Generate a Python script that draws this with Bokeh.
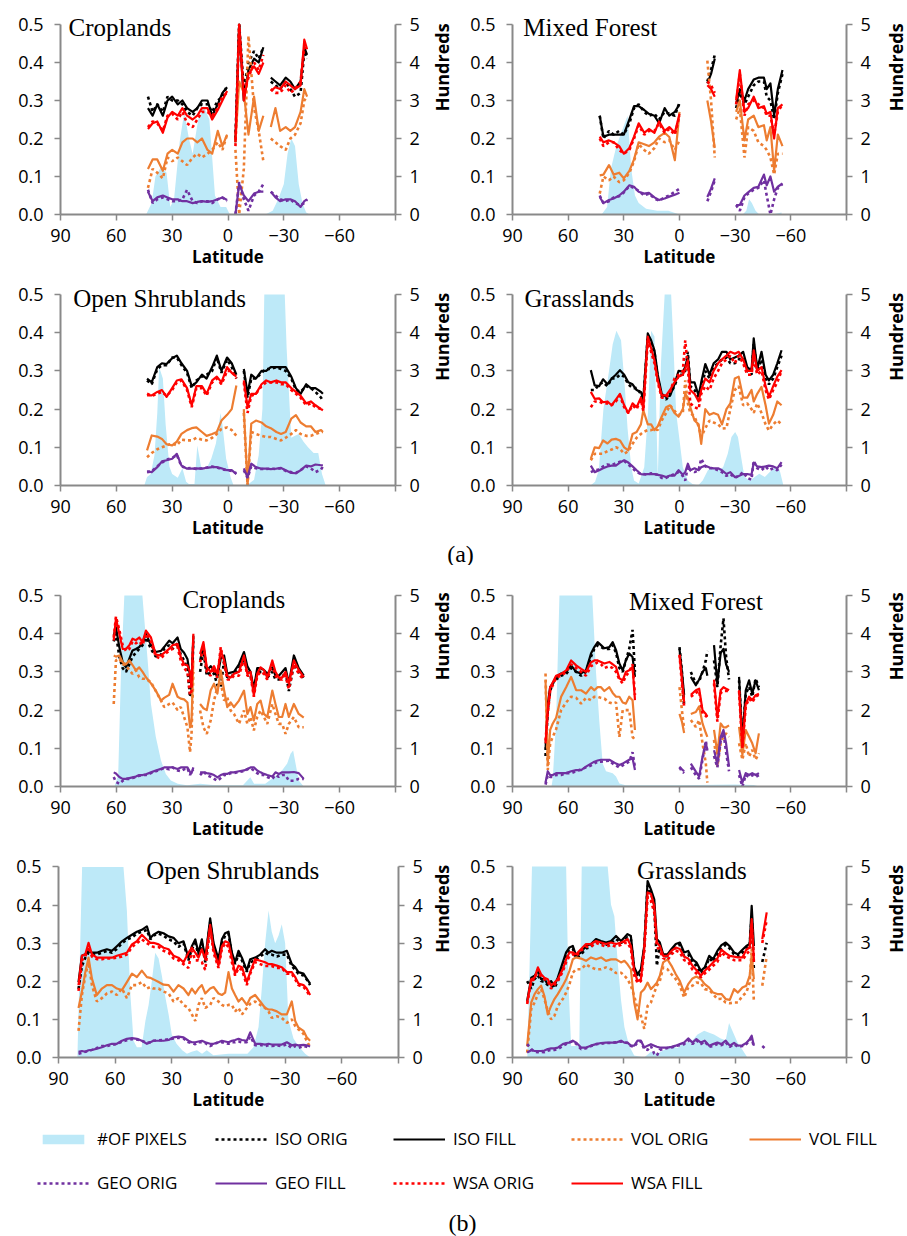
import numpy as np
from bokeh.plotting import figure
from bokeh.models import (Range1d, LinearAxis, FixedTicker, PrintfTickFormatter,
                          Label, Legend, LegendItem)
from bokeh.layouts import column, row
from bokeh.embed import file_html
from bokeh.resources import INLINE

N = None

# ---------------------------------------------------------------- (a) Croplands
A_CROP_LAT = [43, 40.5, 38, 35, 32.5, 30, 27, 24.5, 22, 19, 16.5, 14, 11, 8.5, 5.5, 3, 0.5, -2, -4, -6,
              -8.5, -11, -14, -16.5, -19, -21, -23, -25.5, -28, -31, -33.5, -36, -39, -41, -42.5]
A_CROP_ISO_ORIG = [0.31, 0.27, 0.29, 0.27, 0.31, 0.30, 0.30, 0.29, 0.27, 0.26, 0.28, 0.29, 0.29, 0.27, 0.30, 0.31, 0.34, N, 0.20, 0.50,
                   0.33, 0.40, 0.43, 0.41, 0.44, N, 0.35, 0.34, 0.33, 0.35, 0.33, 0.31, 0.32, 0.43, 0.41]
A_CROP_ISO_FILL = [0.28, 0.26, 0.29, 0.26, 0.30, 0.31, 0.29, 0.30, 0.28, 0.27, 0.28, 0.30, 0.30, 0.26, 0.29, 0.32, 0.335, N, 0.19, 0.50,
                   0.30, 0.38, 0.41, 0.40, 0.44, N, 0.36, 0.35, 0.34, 0.36, 0.35, 0.33, 0.35, 0.44, 0.42]
A_CROP_VOL_ORIG = [0.07, 0.12, 0.11, 0.095, 0.15, 0.14, 0.15, 0.14, 0.13, 0.15, 0.16, 0.15, 0.16, 0.17, 0.19, 0.17, 0.21, N, 0.17, 0.0,
                   0.12, 0.47, 0.28, 0.22, 0.14, N, 0.20, 0.19, 0.18, 0.17, 0.20, 0.21, 0.24, 0.30, 0.31]
A_CROP_VOL_FILL = [0.12, 0.145, 0.145, 0.115, 0.16, 0.17, 0.16, 0.19, 0.20, 0.20, 0.19, 0.20, 0.17, 0.16, 0.22, 0.18, 0.21, N, 0.19, 0.35,
                   0.32, 0.21, 0.31, 0.22, 0.26, N, 0.23, 0.28, 0.22, 0.23, 0.22, 0.23, 0.27, 0.33, 0.31]
A_CROP_GEO_ORIG = [0.065, 0.03, 0.04, 0.045, 0.04, 0.035, 0.035, 0.04, 0.065, 0.035, 0.03, 0.035, 0.035, 0.03, 0.04, 0.045, 0.035, N, 0.0, 0.085,
                   0.04, 0.01, 0.05, 0.06, 0.08, N, 0.06, 0.05, 0.04, 0.035, 0.04, 0.03, 0.025, 0.03, 0.04]
A_CROP_GEO_FILL = [0.06, 0.035, 0.045, 0.05, 0.045, 0.04, 0.04, 0.035, 0.035, 0.03, 0.033, 0.035, 0.033, 0.035, 0.04, 0.045, 0.038, N, 0.0, 0.08,
                   0.05, 0.035, 0.055, 0.06, 0.06, N, 0.06, 0.045, 0.035, 0.04, 0.04, 0.035, 0.02, 0.035, 0.04]
A_CROP_WSA_ORIG = [0.23, 0.245, 0.24, 0.22, 0.26, 0.265, 0.25, 0.27, 0.24, 0.23, 0.25, 0.27, 0.27, 0.26, 0.28, 0.31, 0.32, N, 0.18, 0.50,
                   0.32, 0.36, 0.40, 0.38, 0.42, N, 0.33, 0.32, 0.32, 0.34, 0.32, 0.33, 0.35, 0.44, 0.43]
A_CROP_WSA_FILL = [0.225, 0.24, 0.245, 0.215, 0.255, 0.27, 0.26, 0.28, 0.26, 0.25, 0.26, 0.28, 0.28, 0.25, 0.275, 0.30, 0.325, N, 0.19, 0.50,
                   0.30, 0.37, 0.39, 0.37, 0.40, N, 0.325, 0.335, 0.33, 0.35, 0.34, 0.33, 0.34, 0.46, 0.435]
A_CROP_PX_LAT = [44, 41, 39, 36, 33, 31, 29, 26, 23.5, 21, 19, 16, 13, 10, 7, 4, 1, -1, -5, -10,
                 -15, -20, -24, -27, -30, -32, -34, -36, -38, -40, -42, -44]
A_CROP_PX = [0, 0.3, 1.0, 1.25, 1.1, 0.2, 0.4, 1.9, 2.7, 2.0, 1.6, 2.5, 2.85, 2.5, 0.5, 0.2, 0.2, 0, 0, 0,
             0, 0, 0.1, 0.4, 0.8, 1.6, 2.0, 1.8, 0.8, 0.3, 0.05, 0]

# ---------------------------------------------------------------- (a) Mixed Forest
A_MIXF_LAT = [43, 41, 38, 35.5, 32.5, 30, 27, 24.5, 22, 19, 16.5, 13.5, 11, 8, 5.5, 2.5, 0, -7, -15, -17,
              -19, -25, -30.5, -32.5, -35, -37, -40, -42.5, -45.5, -47, -49, -51, -53, -55.5]
A_MIXF_ISO_ORIG = [0.26, 0.20, 0.22, 0.21, 0.22, 0.21, 0.24, 0.28, 0.29, 0.27, 0.26, 0.265, 0.25, 0.27, 0.265, 0.26, 0.295, N, 0.35, 0.38,
                   0.42, N, 0.28, 0.32, 0.29, 0.31, 0.34, 0.35, 0.35, 0.31, 0.30, 0.25, 0.32, 0.37]
A_MIXF_ISO_FILL = [0.26, 0.205, 0.21, 0.21, 0.21, 0.21, 0.25, 0.285, 0.285, 0.275, 0.265, 0.26, 0.24, 0.28, 0.26, 0.27, 0.29, N, 0.345, 0.37,
                   0.41, N, 0.29, 0.33, 0.30, 0.33, 0.355, 0.36, 0.36, 0.33, 0.345, 0.26, 0.33, 0.38]
A_MIXF_VOL_ORIG = [0.055, 0.10, 0.09, 0.10, 0.085, 0.09, 0.11, 0.14, 0.185, 0.17, 0.16, 0.175, 0.20, 0.19, 0.195, 0.17, 0.195, N, 0.405, 0.30,
                   0.15, N, 0.25, 0.28, 0.15, 0.23, 0.22, 0.19, 0.18, 0.17, 0.15, 0.105, 0.16, 0.16]
A_MIXF_VOL_FILL = [0.103, 0.105, 0.13, 0.105, 0.11, 0.095, 0.115, 0.145, 0.19, 0.185, 0.18, 0.19, 0.205, 0.215, 0.204, 0.143, 0.27, N, 0.30, 0.245,
                   0.175, N, 0.27, 0.30, 0.195, 0.25, 0.26, 0.23, 0.235, 0.195, 0.23, 0.115, 0.21, 0.18]
A_MIXF_GEO_ORIG = [0.05, 0.03, 0.035, 0.045, 0.048, 0.058, 0.075, 0.07, 0.062, 0.05, 0.055, 0.042, 0.036, 0.045, 0.05, 0.06, 0.068, N, 0.035, 0.06,
                   0.09, N, 0.025, 0.01, 0.045, 0.055, 0.065, 0.07, 0.09, 0.05, 0.0, 0.04, 0.07, 0.08]
A_MIXF_GEO_FILL = [0.046, 0.03, 0.038, 0.042, 0.05, 0.06, 0.077, 0.073, 0.06, 0.055, 0.057, 0.045, 0.038, 0.042, 0.047, 0.052, 0.057, N, 0.046, 0.068,
                   0.095, N, 0.025, 0.025, 0.05, 0.058, 0.07, 0.073, 0.105, 0.077, 0.1, 0.06, 0.073, 0.082]
A_MIXF_WSA_ORIG = [0.20, 0.18, 0.19, 0.19, 0.17, 0.16, 0.17, 0.20, 0.235, 0.21, 0.22, 0.22, 0.24, 0.215, 0.225, 0.21, 0.26, N, 0.35, 0.34,
                   0.32, N, 0.29, 0.37, 0.26, 0.29, 0.30, 0.29, 0.28, 0.26, 0.26, 0.21, 0.27, 0.29]
A_MIXF_WSA_FILL = [0.205, 0.19, 0.195, 0.19, 0.18, 0.16, 0.175, 0.205, 0.24, 0.215, 0.225, 0.215, 0.245, 0.22, 0.23, 0.215, 0.265, N, 0.34, 0.33,
                   0.31, N, 0.30, 0.38, 0.27, 0.28, 0.31, 0.28, 0.285, 0.265, 0.27, 0.20, 0.28, 0.29]
A_MIXF_PX_LAT = [42, 39, 37, 34, 31, 28, 26, 24, 22, 18, 12, 6, 0, -34, -36, -37.5, -39, -41, -43, -50, -55]
A_MIXF_PX = [0, 0.2, 1.2, 1.8, 2.2, 2.6, 1.2, 0.5, 0.3, 0.15, 0.1, 0.1, 0, 0, 0.1, 0.4, 0.3, 0.1, 0, 0, 0.05]

# ---------------------------------------------------------------- (a) Open Shrublands
A_SHRUB_LAT = [43.5, 41, 38, 35.5, 33, 30, 27.5, 25, 22, 19.5, 17, 14, 11.5, 8.5, 6, 3.5, 0.5, -2, -4.5, -6.5,
               -8.5, -10.5, -12.5, -15, -18, -20.5, -23, -26, -28.5, -31, -34, -36.5, -39, -42, -44.5, -47, -50, -51]
A_SHRUB_ISO_ORIG = [0.275, 0.265, 0.305, 0.315, 0.315, 0.335, 0.335, 0.315, 0.295, 0.255, 0.275, 0.285, 0.29, 0.30, 0.335, 0.295, 0.33, 0.31, 0.28, N,
                    0.30, 0.23, 0.28, 0.28, 0.295, 0.305, 0.305, 0.31, 0.305, 0.30, 0.28, 0.25, 0.245, 0.26, 0.255, 0.245, 0.23, 0.22]
A_SHRUB_ISO_FILL = [0.28, 0.27, 0.31, 0.32, 0.318, 0.333, 0.34, 0.32, 0.30, 0.26, 0.27, 0.29, 0.28, 0.31, 0.34, 0.30, 0.335, 0.32, 0.29, N,
                    0.305, 0.24, 0.29, 0.28, 0.30, 0.30, 0.31, 0.31, 0.31, 0.31, 0.285, 0.255, 0.24, 0.265, 0.255, 0.255, 0.245, 0.24]
A_SHRUB_VOL_ORIG = [0.074, 0.085, 0.095, 0.10, 0.105, 0.11, 0.105, 0.12, 0.118, 0.118, 0.125, 0.12, 0.118, 0.125, 0.135, 0.148, 0.152, 0.145, 0.13, N,
                    0.19, 0.0, 0.14, 0.135, 0.13, 0.127, 0.127, 0.122, 0.118, 0.125, 0.135, 0.145, 0.135, 0.13, 0.13, 0.135, 0.14, 0.14]
A_SHRUB_VOL_FILL = [0.092, 0.131, 0.128, 0.122, 0.108, 0.105, 0.115, 0.135, 0.145, 0.15, 0.152, 0.14, 0.13, 0.135, 0.14, 0.17, 0.185, 0.20, 0.262, N,
                    0.20, 0.0, 0.162, 0.17, 0.165, 0.155, 0.15, 0.14, 0.135, 0.14, 0.175, 0.184, 0.165, 0.155, 0.155, 0.14, 0.145, 0.14]
A_SHRUB_GEO_ORIG = [0.035, 0.037, 0.05, 0.06, 0.068, 0.072, 0.08, 0.05, 0.045, 0.046, 0.043, 0.045, 0.047, 0.05, 0.047, 0.043, 0.04, 0.038, 0.032, N,
                    0.04, 0.02, 0.05, 0.045, 0.043, 0.043, 0.044, 0.043, 0.045, 0.038, 0.035, 0.033, 0.04, 0.05, 0.045, 0.035, 0.042, 0.05]
A_SHRUB_GEO_FILL = [0.037, 0.035, 0.048, 0.063, 0.066, 0.07, 0.083, 0.052, 0.044, 0.044, 0.045, 0.044, 0.046, 0.048, 0.048, 0.045, 0.04, 0.04, 0.03, N,
                    0.045, 0.022, 0.057, 0.048, 0.044, 0.044, 0.043, 0.044, 0.046, 0.04, 0.033, 0.032, 0.04, 0.052, 0.05, 0.055, 0.053, 0.053]
A_SHRUB_WSA_ORIG = [0.24, 0.235, 0.24, 0.245, 0.235, 0.25, 0.27, 0.275, 0.25, 0.205, 0.255, 0.255, 0.235, 0.27, 0.28, 0.265, 0.30, 0.30, 0.28, N,
                    0.27, 0.19, 0.235, 0.24, 0.26, 0.27, 0.27, 0.27, 0.265, 0.265, 0.25, 0.24, 0.23, 0.21, 0.215, 0.205, 0.2, 0.195]
A_SHRUB_WSA_FILL = [0.236, 0.236, 0.245, 0.25, 0.232, 0.255, 0.275, 0.278, 0.255, 0.21, 0.26, 0.26, 0.24, 0.275, 0.285, 0.27, 0.31, 0.295, 0.285, N,
                    0.275, 0.205, 0.24, 0.24, 0.265, 0.275, 0.27, 0.275, 0.27, 0.27, 0.255, 0.245, 0.235, 0.215, 0.22, 0.21, 0.2, 0.197]
A_SHRUB_PX_LAT = [45, 43.5, 41.5, 39.5, 38, 37, 35, 33.5, 31.5, 30, 27, 24.5, 22.5, 21, 18, 16.5, 14.5, 12, 9, 6.5,
                  4, 3, 1, -1.5, -3, -10, -14, -16.5, -18.5, -19.5, -30.5, -31.5, -34, -36, -38, -40.5, -43, -46, -48.5, -50.5, -52.5]
A_SHRUB_PX = [0, 0.22, 0.3, 0.8, 1.9, 3.1, 2.8, 1.6, 0.5, 0.3, 0.2, 0.45, 0.1, 0.04, 0.04, 1.05, 0.5, 0.4, 0.7, 1.1,
              1.9, 1.6, 0.7, 0.2, 0, 0, 0.15, 0.8, 2.0, 5.5, 5.5, 3.6, 1.25, 1.3, 1.35, 1.15, 1.0, 0.85, 0.85, 0.3, 0]

# ---------------------------------------------------------------- (a) Grasslands
A_GRASS_LAT = [47.8, 45.7, 43.3, 41.2, 38.8, 36.6, 34.3, 32.1, 29.8, 27.6, 25.3, 23.1, 20.8, 19.5, 17.1, 15.3, 13.5, 11.7, 9.6, 7.2,
               5.1, 2.7, 0.5, -1.8, -3.1, -4.5, -5.8, -8.1, -10.3, -11.7, -13.9, -16.2, -18.4, -20.8, -22.9, -25.3, -27.4, -29.8, -31.9, -34.3,
               -36.5, -38.8, -40, -41.9, -44.2, -46.4, -48.2, -50.5, -52.7, -55]
A_GRASS_ISO_ORIG = [0.25, 0.25, 0.265, 0.27, 0.26, 0.28, 0.28, 0.29, 0.285, 0.265, 0.255, 0.255, 0.24, 0.22, 0.39, 0.37, 0.35, 0.28, 0.235, 0.225,
                    0.24, 0.26, 0.29, 0.29, 0.30, 0.35, 0.26, 0.25, 0.23, 0.255, 0.30, 0.28, 0.31, 0.32, 0.33, 0.335, 0.32, 0.32, 0.33, 0.335,
                    0.30, 0.29, 0.37, 0.30, 0.33, 0.28, 0.265, 0.28, 0.31, 0.34]
A_GRASS_ISO_FILL = [0.302, 0.262, 0.26, 0.278, 0.265, 0.28, 0.29, 0.302, 0.29, 0.27, 0.265, 0.25, 0.245, 0.227, 0.398, 0.38, 0.354, 0.29, 0.24, 0.232,
                    0.235, 0.265, 0.30, 0.298, 0.31, 0.34, 0.27, 0.27, 0.235, 0.27, 0.318, 0.29, 0.32, 0.33, 0.35, 0.35, 0.33, 0.335, 0.34, 0.35,
                    0.31, 0.30, 0.385, 0.305, 0.35, 0.29, 0.275, 0.29, 0.32, 0.354]
A_GRASS_VOL_ORIG = [0.066, 0.083, 0.083, 0.083, 0.09, 0.094, 0.10, 0.096, 0.083, 0.09, 0.109, 0.125, 0.135, 0.14, 0.145, 0.145, 0.148, 0.145, 0.17, 0.19,
                    0.21, 0.195, 0.185, 0.19, 0.275, 0.215, 0.19, 0.18, 0.155, 0.127, 0.15, 0.17, 0.165, 0.16, 0.149, 0.15, 0.20, 0.25, 0.26, 0.21,
                    0.215, 0.20, 0.19, 0.215, 0.19, 0.16, 0.144, 0.16, 0.17, 0.16]
A_GRASS_VOL_FILL = [0.07, 0.10, 0.098, 0.118, 0.11, 0.12, 0.122, 0.118, 0.10, 0.092, 0.135, 0.14, 0.16, 0.197, 0.16, 0.16, 0.145, 0.155, 0.18, 0.205,
                    0.21, 0.19, 0.18, 0.20, 0.24, 0.23, 0.205, 0.17, 0.16, 0.109, 0.20, 0.185, 0.19, 0.185, 0.16, 0.20, 0.215, 0.28, 0.285, 0.23,
                    0.23, 0.25, 0.22, 0.24, 0.258, 0.21, 0.162, 0.185, 0.22, 0.21]
A_GRASS_GEO_ORIG = [0.035, 0.04, 0.042, 0.05, 0.055, 0.053, 0.058, 0.062, 0.064, 0.055, 0.045, 0.035, 0.03, 0.03, 0.028, 0.032, 0.03, 0.028, 0.02, 0.02,
                    0.025, 0.03, 0.035, 0.025, 0.013, 0.05, 0.04, 0.035, 0.04, 0.07, 0.05, 0.045, 0.045, 0.04, 0.035, 0.025, 0.03, 0.02, 0.025, 0.035,
                    0.02, 0.015, 0.065, 0.045, 0.04, 0.05, 0.04, 0.045, 0.04, 0.055]
A_GRASS_GEO_FILL = [0.052, 0.035, 0.04, 0.045, 0.05, 0.052, 0.052, 0.06, 0.066, 0.06, 0.05, 0.04, 0.03, 0.029, 0.03, 0.03, 0.03, 0.028, 0.026, 0.022,
                    0.026, 0.026, 0.04, 0.028, 0.035, 0.057, 0.04, 0.045, 0.04, 0.048, 0.052, 0.047, 0.045, 0.045, 0.04, 0.03, 0.035, 0.022, 0.025, 0.03,
                    0.03, 0.028, 0.06, 0.05, 0.048, 0.05, 0.052, 0.05, 0.045, 0.061]
A_GRASS_WSA_ORIG = [0.205, 0.22, 0.22, 0.215, 0.215, 0.21, 0.22, 0.235, 0.205, 0.19, 0.21, 0.2, 0.225, 0.195, 0.38, 0.35, 0.32, 0.27, 0.23, 0.23,
                    0.245, 0.28, 0.29, 0.30, 0.38, 0.31, 0.215, 0.205, 0.2, 0.24, 0.26, 0.25, 0.28, 0.30, 0.32, 0.33, 0.34, 0.32, 0.34, 0.32,
                    0.29, 0.29, 0.33, 0.29, 0.30, 0.25, 0.225, 0.25, 0.27, 0.3]
A_GRASS_WSA_FILL = [0.245, 0.227, 0.228, 0.218, 0.22, 0.21, 0.225, 0.24, 0.21, 0.19, 0.215, 0.205, 0.23, 0.2, 0.39, 0.36, 0.328, 0.275, 0.236, 0.236,
                    0.25, 0.27, 0.285, 0.29, 0.305, 0.328, 0.25, 0.24, 0.22, 0.25, 0.28, 0.27, 0.30, 0.32, 0.33, 0.34, 0.35, 0.345, 0.35, 0.33,
                    0.30, 0.30, 0.354, 0.30, 0.31, 0.26, 0.232, 0.26, 0.285, 0.302]
A_GRASS_PX_LAT = [48, 45.5, 43.5, 41, 39.5, 38, 36, 34, 31.5, 29.5, 28, 26, 24.5, 22, 19, 17, 15.3, 13.5, 11.7, 10,
                  8, 4.5, 3.2, 1.8, 0, -1.8, -4.5, -7, -10, -12.5, -15.3, -18, -21, -23.5, -26, -28, -30, -31.5, -33.5, -35,
                  -38, -40.5, -43, -46, -48.5, -51.5, -54, -56]
A_GRASS_PX = [0, 0.1, 0.4, 2.0, 2.5, 3.0, 3.7, 4.05, 3.8, 2.6, 1.5, 0.48, 0.13, 0.05, 0.48, 1.9, 4.05, 3.9, 0.22, 3.2,
              5.5, 5.5, 3.6, 1.9, 1.2, 0.48, 0.13, 0.04, 0, 0.13, 0.4, 0.48, 0.4, 0.48, 0.83, 1.27, 1.4, 1.27, 0.66, 0.22,
              0.13, 0.22, 0.31, 0.22, 0.35, 0.48, 0.4, 0]

# ---------------------------------------------------------------- (b) Croplands
B_CROP_LAT = [61.4, 60.2, 58.4, 56.6, 54.8, 53, 51.3, 49.5, 47.7, 45.9, 44.1, 41.4, 38.8, 36, 34.3, 31.6, 29.8, 27.1, 25.4, 23.6,
              21.8, 20.4, 19.6, 18.6, 17, 15, 13.2, 11.4, 9.3, 7.5, 5.7, 3.9, 2.1, 0.4, -1.4, -3.2, -5.9, -8.6, -10.4, -12.1,
              -13.9, -15.7, -17.5, -19.3, -21.1, -23.8, -25.5, -27.3, -29.1, -30.9, -32.7, -35.4, -38, -40.7]
B_CROP_ISO_ORIG = [0.38, 0.40, 0.34, 0.31, 0.30, 0.32, 0.34, 0.35, 0.36, 0.37, 0.39, 0.36, 0.34, 0.345, 0.36, 0.37, 0.36, 0.375, 0.345, 0.33,
                   0.31, 0.234, 0.25, 0.38, N,
                   0.30, 0.355, 0.29, 0.30, 0.295, 0.265, 0.26, 0.33, 0.285, 0.29, 0.29, 0.31, 0.335, 0.30, 0.29, 0.25, 0.30, 0.30, 0.30, 0.285,
                   0.30, 0.28, 0.28, 0.285, 0.30, 0.25, 0.32, 0.30, 0.285]
B_CROP_ISO_FILL = [0.395, 0.417, 0.365, 0.325, 0.312, 0.335, 0.356, 0.36, 0.365, 0.378, 0.40, 0.37, 0.352, 0.355, 0.365, 0.382, 0.375, 0.39, 0.36, 0.35,
                   0.334, 0.29, 0.26, 0.395, N,
                   0.33, 0.37, 0.304, 0.315, 0.304, 0.286, 0.335, 0.343, 0.295, 0.298, 0.30, 0.32, 0.352, 0.315, 0.30, 0.256, 0.31, 0.31, 0.305, 0.295,
                   0.312, 0.29, 0.29, 0.30, 0.31, 0.27, 0.343, 0.31, 0.29]
B_CROP_VOL_ORIG = [0.216, 0.33, 0.335, 0.32, 0.318, 0.304, 0.295, 0.304, 0.286, 0.282, 0.282, 0.273, 0.25, 0.225, 0.208, 0.216, 0.22, 0.2, 0.208, 0.182,
                   0.155, 0.09, 0.135, 0.30, N,
                   0.199, 0.155, 0.138, 0.173, 0.225, 0.26, 0.273, 0.225, 0.234, 0.199, 0.19, 0.164, 0.199, 0.164, 0.182, 0.147, 0.182, 0.199, 0.182, 0.164,
                   0.216, 0.19, 0.164, 0.164, 0.138, 0.164, 0.182, 0.155, 0.155]
B_CROP_VOL_FILL = [0.343, 0.34, 0.343, 0.325, 0.32, 0.33, 0.318, 0.304, 0.312, 0.30, 0.286, 0.27, 0.251, 0.225, 0.232, 0.24, 0.269, 0.235, 0.23, 0.228,
                   0.22, 0.155, 0.17, 0.33, N,
                   0.216, 0.205, 0.20, 0.252, 0.269, 0.243, 0.304, 0.252, 0.208, 0.22, 0.208, 0.225, 0.251, 0.19, 0.208, 0.173, 0.216, 0.225, 0.19, 0.182,
                   0.251, 0.216, 0.182, 0.182, 0.216, 0.182, 0.216, 0.19, 0.18]
B_CROP_GEO_ORIG = [0.025, 0.012, 0.007, 0.015, 0.02, 0.02, 0.022, 0.025, 0.028, 0.03, 0.03, 0.035, 0.04, 0.045, 0.048, 0.045, 0.05, 0.042, 0.04, 0.045,
                   0.048, 0.03, 0.04, 0.045, N,
                   0.03, 0.04, 0.03, 0.025, 0.02, 0.015, 0.022, 0.03, 0.03, 0.035, 0.035, 0.038, 0.04, 0.045, 0.048, 0.042, 0.035, 0.03, 0.03, 0.025,
                   0.02, 0.03, 0.025, 0.03, 0.03, 0.015, 0.015, 0.02, 0.02]
B_CROP_GEO_FILL = [0.037, 0.034, 0.025, 0.02, 0.02, 0.022, 0.024, 0.026, 0.03, 0.03, 0.032, 0.037, 0.042, 0.046, 0.05, 0.05, 0.05, 0.046, 0.05, 0.05,
                   0.05, 0.038, 0.035, 0.05, N,
                   0.037, 0.037, 0.035, 0.033, 0.03, 0.024, 0.03, 0.033, 0.033, 0.037, 0.037, 0.04, 0.042, 0.046, 0.05, 0.05, 0.042, 0.037, 0.033, 0.03,
                   0.026, 0.037, 0.033, 0.037, 0.037, 0.037, 0.038, 0.035, 0.02]
B_CROP_WSA_ORIG = [0.39, 0.445, 0.41, 0.37, 0.355, 0.36, 0.38, 0.375, 0.38, 0.37, 0.40, 0.38, 0.34, 0.335, 0.345, 0.355, 0.36, 0.365, 0.33, 0.31,
                   0.30, 0.24, 0.25, 0.39, N,
                   0.325, 0.37, 0.30, 0.29, 0.31, 0.285, 0.365, 0.32, 0.28, 0.28, 0.29, 0.29, 0.335, 0.29, 0.29, 0.235, 0.29, 0.30, 0.295, 0.28,
                   0.32, 0.29, 0.28, 0.28, 0.29, 0.255, 0.32, 0.295, 0.28]
B_CROP_WSA_FILL = [0.382, 0.44, 0.40, 0.36, 0.36, 0.37, 0.387, 0.383, 0.39, 0.378, 0.408, 0.39, 0.345, 0.343, 0.35, 0.36, 0.37, 0.373, 0.34, 0.32,
                   0.317, 0.30, 0.26, 0.40, N,
                   0.347, 0.378, 0.312, 0.30, 0.315, 0.295, 0.356, 0.33, 0.29, 0.285, 0.295, 0.30, 0.343, 0.295, 0.30, 0.238, 0.295, 0.312, 0.305, 0.285,
                   0.33, 0.30, 0.285, 0.285, 0.30, 0.27, 0.33, 0.305, 0.286]
B_CROP_PX_LAT = [61, 59, 57.5, 55.7, 46, 45, 43, 41.4, 38.8, 36, 33.4, 30.7, 27, 22, 15, 8, 0, -8, -12, -14,
                 -20, -26.4, -29, -31.8, -33.6, -35, -36.3, -38, -40.7]
B_CROP_PX = [0, 0.3, 3.0, 5.5, 5.5, 4.4, 3.2, 2.16, 1.3, 0.68, 0.33, 0.16, 0.07, 0.03, 0.07, 0.04, 0.03, 0.03, 0.24, 0.07,
             0.07, 0.3, 0.42, 0.6, 0.86, 0.94, 0.6, 0.16, 0]

# ---------------------------------------------------------------- (b) Mixed Forest
B_MIXF_LAT = [72.2, 71, 69.7, 68.3, 66.5, 63.8, 61.1, 58.4, 55.7, 53, 50.4, 47.7, 45.9, 44.1, 42.3, 40.5, 37.8, 36, 34.2, 32.4,
              30.6, 28.9, 27.1, 25.3, 24, 12, 0, -1.3, -2.5, -4, -6.1, -8.8, -10.6, -12.4, -14.2, -15, -17,
              -18.6, -20.4, -22.2, -23.7, -25.1, -26.7, -29, -32.1, -33.9, -35.7, -37.5, -39.2, -41, -42.8]
B_MIXF_ISO_ORIG = [0.08, 0.2, 0.25, 0.27, 0.28, 0.29, 0.295, 0.31, 0.3, 0.29, 0.3, 0.34, 0.36, 0.37, 0.365, 0.36, 0.36, 0.37, 0.35, 0.31,
                   0.30, 0.33, 0.36, 0.41, 0.30, N, 0.365, 0.30, 0.21, N, 0.30, 0.27, 0.275, 0.30, 0.33, 0.355, N,
                   0.33, 0.26, 0.37, 0.44, 0.34, 0.28, N, 0.278, 0.122, 0.243, 0.261, 0.235, 0.282, 0.26]
B_MIXF_ISO_FILL = [0.096, 0.217, 0.26, 0.27, 0.287, 0.296, 0.30, 0.317, 0.30, 0.296, 0.304, 0.348, 0.365, 0.378, 0.37, 0.362, 0.365, 0.378, 0.357, 0.322,
                   0.304, 0.33, 0.348, 0.339, 0.287, N, 0.36, 0.30, 0.24, N, 0.287, 0.265, 0.28, 0.30, 0.31, 0.29, N,
                   0.37, 0.27, 0.35, 0.36, 0.32, 0.30, N, 0.287, 0.113, 0.252, 0.278, 0.243, 0.278, 0.252]
B_MIXF_VOL_ORIG = [0.296, 0.043, 0.113, 0.13, 0.15, 0.2, 0.22, 0.235, 0.232, 0.217, 0.232, 0.226, 0.235, 0.235, 0.232, 0.23, 0.22, 0.217, 0.22, 0.13,
                   0.2, 0.2, 0.2, 0.13, 0.122, N, 0.26, 0.2, 0.15, N, 0.174, 0.156, 0.174, 0.113, 0.06, 0.01, N,
                   0.122, 0.052, 0.113, 0.13, 0.139, 0.13, N, 0.113, 0.07, 0.113, 0.078, 0.096, 0.07, 0.087]
B_MIXF_VOL_FILL = [0.278, 0.06, 0.148, 0.165, 0.18, 0.235, 0.26, 0.287, 0.252, 0.252, 0.243, 0.26, 0.252, 0.26, 0.26, 0.25, 0.26, 0.245, 0.235, 0.235,
                   0.22, 0.217, 0.235, 0.226, 0.148, N, 0.19, 0.17, 0.14, N, 0.19, 0.195, 0.21, 0.165, 0.14, 0.13, N,
                   0.148, 0.087, 0.165, 0.155, 0.155, 0.16, N, 0.156, 0.083, 0.148, 0.13, 0.113, 0.087, 0.139]
B_MIXF_GEO_ORIG = [0.005, 0.03, 0.025, 0.025, 0.03, 0.03, 0.035, 0.035, 0.04, 0.045, 0.05, 0.055, 0.06, 0.065, 0.065, 0.066, 0.068, 0.06, 0.055, 0.05,
                   0.055, 0.06, 0.065, 0.09, 0.05, N, 0.05, 0.04, 0.035, N, 0.05, 0.03, 0.02, 0.07, 0.12, 0.09, N,
                   0.08, 0.05, 0.12, 0.14, 0.09, 0.04, N, 0.03, 0.0, 0.03, 0.025, 0.03, 0.025, 0.03]
B_MIXF_GEO_FILL = [0.01, 0.04, 0.03, 0.03, 0.035, 0.035, 0.035, 0.04, 0.043, 0.043, 0.052, 0.06, 0.065, 0.068, 0.07, 0.07, 0.07, 0.065, 0.06, 0.056,
                   0.06, 0.065, 0.07, 0.074, 0.043, N, 0.052, 0.045, 0.04, N, 0.06, 0.039, 0.026, 0.078, 0.113, 0.096, N,
                   0.095, 0.06, 0.13, 0.148, 0.113, 0.052, N, 0.043, 0.01, 0.035, 0.03, 0.035, 0.03, 0.035]
B_MIXF_WSA_ORIG = [0.12, 0.19, 0.25, 0.265, 0.285, 0.29, 0.3, 0.32, 0.31, 0.3, 0.29, 0.315, 0.32, 0.325, 0.32, 0.31, 0.315, 0.31, 0.3, 0.28,
                   0.27, 0.29, 0.3, 0.32, 0.24, N, 0.345, 0.27, 0.21, N, 0.235, 0.245, 0.25, 0.19, 0.185, 0.18, N,
                   0.27, 0.17, 0.245, 0.25, 0.25, 0.25, N, 0.25, 0.1, 0.21, 0.23, 0.22, 0.235, 0.24]
B_MIXF_WSA_FILL = [0.113, 0.2, 0.26, 0.272, 0.29, 0.295, 0.304, 0.33, 0.317, 0.308, 0.3, 0.325, 0.33, 0.33, 0.326, 0.322, 0.326, 0.32, 0.313, 0.283,
                   0.278, 0.30, 0.304, 0.313, 0.226, N, 0.343, 0.28, 0.22, N, 0.24, 0.252, 0.256, 0.2, 0.19, 0.183, N,
                   0.28, 0.18, 0.252, 0.26, 0.256, 0.252, N, 0.252, 0.104, 0.217, 0.235, 0.226, 0.239, 0.243]
B_MIXF_PX_LAT = [69, 68.3, 66.5, 64.7, 47, 45, 43.2, 41.4, 39.6, 36, 34.2, 32.4, 29, 0, -30, -40, -43]
B_MIXF_PX = [0, 0.2, 1.74, 5.5, 5.5, 3.0, 1.7, 0.6, 0.4, 0.35, 0.26, 0.08, 0.03, 0.03, 0.05, 0.04, 0]

# ---------------------------------------------------------------- (b) Open Shrublands
B_SHRUB_LAT = [79.4, 77.6, 75.8, 74.1, 72.3, 69.7, 67, 64.4, 61.7, 59.1, 56.4, 53.8, 51.1, 48.5, 45.9, 43.2, 41.4, 39.7, 37, 34.4,
               31.7, 29.1, 26.5, 23.8, 21.2, 19.4, 17.6, 15.9, 14.1, 12.3, 9.7, 7.9, 5.3, 3.5, 1.8, 0, -1.8, -3.5, -5.3, -7.1,
               -9.7, -11.5, -14.1, -16.8, -19.4, -21.2, -22.9, -25.6, -28.2, -30.9, -33.5, -35.3, -37, -39.7, -41.4, -43.2]
B_SHRUB_ISO_ORIG = [0.18, 0.24, 0.262, 0.275, 0.272, 0.27, 0.275, 0.28, 0.275, 0.285, 0.30, 0.31, 0.315, 0.325, 0.33, 0.335, 0.31, 0.32, 0.325, 0.32,
                    0.31, 0.305, 0.29, 0.3, 0.255, 0.285, 0.30, 0.27, 0.30, 0.25, 0.355, 0.29, 0.25, 0.30, 0.32, 0.325, 0.27, 0.245, 0.27, 0.255,
                    0.225, 0.25, 0.255, 0.265, 0.275, 0.27, 0.27, 0.265, 0.27, 0.27, 0.24, 0.23, 0.22, 0.215, 0.205, 0.19]
B_SHRUB_ISO_FILL = [0.198, 0.267, 0.271, 0.28, 0.275, 0.275, 0.28, 0.284, 0.28, 0.292, 0.305, 0.314, 0.322, 0.33, 0.335, 0.344, 0.314, 0.322, 0.33, 0.326,
                    0.318, 0.314, 0.30, 0.305, 0.262, 0.292, 0.31, 0.275, 0.31, 0.258, 0.365, 0.30, 0.258, 0.31, 0.326, 0.33, 0.275, 0.25, 0.28, 0.262,
                    0.228, 0.258, 0.262, 0.27, 0.284, 0.275, 0.28, 0.275, 0.275, 0.28, 0.245, 0.237, 0.224, 0.22, 0.207, 0.194]
B_SHRUB_VOL_ORIG = [0.07, 0.164, 0.215, 0.25, 0.19, 0.147, 0.156, 0.168, 0.173, 0.164, 0.181, 0.156, 0.19, 0.19, 0.198, 0.181, 0.185, 0.181, 0.181, 0.173,
                    0.168, 0.147, 0.156, 0.138, 0.13, 0.113, 0.096, 0.138, 0.156, 0.13, 0.138, 0.156, 0.147, 0.138, 0.134, 0.138, 0.138, 0.121, 0.13, 0.113,
                    0.13, 0.141, 0.147, 0.138, 0.13, 0.121, 0.104, 0.108, 0.104, 0.091, 0.1, 0.083, 0.074, 0.062, 0.044, 0.027]
B_SHRUB_VOL_FILL = [0.13, 0.173, 0.224, 0.262, 0.207, 0.164, 0.181, 0.19, 0.19, 0.181, 0.177, 0.198, 0.22, 0.211, 0.228, 0.211, 0.209, 0.205, 0.198, 0.191,
                    0.19, 0.173, 0.19, 0.181, 0.164, 0.181, 0.168, 0.181, 0.19, 0.168, 0.181, 0.185, 0.168, 0.164, 0.17, 0.224, 0.181, 0.164, 0.147, 0.156,
                    0.138, 0.156, 0.164, 0.147, 0.13, 0.126, 0.126, 0.121, 0.113, 0.113, 0.147, 0.096, 0.079, 0.07, 0.053, 0.044]
B_SHRUB_GEO_ORIG = [0.01, 0.012, 0.015, 0.017, 0.02, 0.025, 0.03, 0.03, 0.033, 0.035, 0.042, 0.045, 0.048, 0.047, 0.044, 0.038, 0.04, 0.044, 0.045, 0.046,
                    0.048, 0.05, 0.052, 0.05, 0.04, 0.038, 0.035, 0.04, 0.04, 0.038, 0.03, 0.035, 0.04, 0.04, 0.038, 0.036, 0.04, 0.04, 0.042, 0.04,
                    0.04, 0.055, 0.032, 0.033, 0.03, 0.032, 0.03, 0.032, 0.03, 0.035, 0.025, 0.03, 0.025, 0.03, 0.028, 0.025]
B_SHRUB_GEO_FILL = [0.015, 0.017, 0.015, 0.019, 0.02, 0.023, 0.027, 0.032, 0.036, 0.036, 0.044, 0.049, 0.051, 0.049, 0.044, 0.036, 0.04, 0.044, 0.044, 0.044,
                    0.046, 0.053, 0.055, 0.053, 0.044, 0.04, 0.04, 0.042, 0.044, 0.04, 0.036, 0.036, 0.04, 0.044, 0.042, 0.04, 0.044, 0.046, 0.049, 0.046,
                    0.044, 0.066, 0.036, 0.036, 0.034, 0.036, 0.034, 0.034, 0.034, 0.04, 0.032, 0.034, 0.032, 0.033, 0.032, 0.029]
B_SHRUB_WSA_ORIG = [0.175, 0.255, 0.265, 0.29, 0.265, 0.258, 0.258, 0.26, 0.26, 0.262, 0.265, 0.27, 0.29, 0.30, 0.31, 0.30, 0.295, 0.29, 0.29, 0.28,
                    0.275, 0.26, 0.255, 0.245, 0.235, 0.28, 0.255, 0.255, 0.25, 0.23, 0.34, 0.275, 0.235, 0.285, 0.30, 0.29, 0.25, 0.215, 0.235, 0.23,
                    0.19, 0.22, 0.25, 0.245, 0.24, 0.24, 0.24, 0.235, 0.235, 0.22, 0.22, 0.205, 0.19, 0.185, 0.175, 0.16]
B_SHRUB_WSA_FILL = [0.19, 0.267, 0.271, 0.301, 0.271, 0.262, 0.262, 0.262, 0.262, 0.267, 0.271, 0.275, 0.297, 0.305, 0.322, 0.309, 0.301, 0.301, 0.297, 0.288,
                    0.284, 0.267, 0.262, 0.25, 0.275, 0.288, 0.275, 0.262, 0.284, 0.258, 0.348, 0.284, 0.241, 0.292, 0.305, 0.301, 0.262, 0.22, 0.241, 0.237,
                    0.198, 0.224, 0.258, 0.254, 0.25, 0.245, 0.245, 0.241, 0.237, 0.224, 0.224, 0.211, 0.194, 0.19, 0.181, 0.164]
B_SHRUB_PX_LAT = [80, 77.5, 55.6, 53.8, 52, 50.3, 48.5, 46, 44, 42.3, 40.6, 38.8, 37, 35.3, 33.5, 31.7, 30, 27.5, 24.5, 22,
                  19.5, 16.7, 14, 11.5, 8, 0, -5, -10, -13.2, -15.9, -17.6, -19.4, -21.2, -22.9, -24.7, -26.5, -28.2, -30, -31.7, -34.4,
                  -37, -40.6, -43.2]
B_SHRUB_PX = [0, 5.5, 5.5, 3.86, 1.7, 0.44, 0.27, 0.27, 0.96, 1.38, 2.0, 2.75, 2.6, 2.15, 1.6, 1.13, 0.6, 0.36, 0.19, 0.1,
              0.15, 0.19, 0.1, 0.19, 0.06, 0.1, 0.1, 0.1, 0.27, 0.8, 1.8, 3.0, 3.86, 3.3, 3.0, 3.2, 3.5, 3.0, 1.0, 0.5,
              0.3, 0.1, 0]

# ---------------------------------------------------------------- (b) Grasslands
B_GRASS_LAT = [82.1, 79.9, 78.1, 76.3, 74.6, 72.8, 71, 69.2, 67.4, 65.6, 62.9, 61.1, 59.3, 57.5, 55.7, 53, 50.4, 47.7, 45, 42.3,
               39.6, 36.9, 34.2, 31.5, 29.7, 28, 26.2, 24.4, 22.6, 20.8, 19, 17.2, 15.4, 13.6, 12.2, 10.6, 8.8, 6.5, 4.3, 2,
               -0.2, -2.5, -4.7, -7, -9.1, -11.5, -13.6, -16, -18.1, -20.4, -22.6, -24.9, -27.1, -29.4, -31.5, -33.9, -36, -37.8, -38.9, -40.1,
               -42, -44.6, -47]
B_GRASS_ISO_ORIG = [0.2, 0.18, 0.205, 0.215, 0.2, 0.198, 0.19, 0.19, 0.182, 0.2, 0.24, 0.265, 0.28, 0.285, 0.26, 0.27, 0.285, 0.29, 0.305, 0.3,
                    0.295, 0.3, 0.31, 0.3, 0.305, 0.315, 0.31, 0.225, 0.21, 0.22, 0.285, 0.45, 0.43, 0.4, 0.24, 0.29, 0.265, 0.265, 0.275, 0.29,
                    0.295, 0.265, 0.27, 0.25, 0.24, 0.22, 0.23, 0.26, 0.25, 0.27, 0.285, 0.295, 0.285, 0.27, 0.265, 0.275, 0.285, 0.29, 0.37, 0.23,
                    N, 0.25, 0.30]
B_GRASS_ISO_FILL = [0.148, 0.209, 0.214, 0.227, 0.205, 0.205, 0.192, 0.2, 0.188, 0.209, 0.249, 0.275, 0.288, 0.292, 0.266, 0.275, 0.292, 0.297, 0.31, 0.305,
                    0.301, 0.305, 0.318, 0.305, 0.314, 0.323, 0.318, 0.236, 0.218, 0.231, 0.292, 0.462, 0.44, 0.414, 0.31, 0.301, 0.27, 0.27, 0.284, 0.297,
                    0.301, 0.275, 0.279, 0.257, 0.249, 0.227, 0.236, 0.266, 0.257, 0.279, 0.294, 0.301, 0.291, 0.275, 0.27, 0.282, 0.292, 0.297, 0.397, 0.292,
                    N, N, N]
B_GRASS_VOL_ORIG = [0.013, 0.127, 0.144, 0.166, 0.179, 0.153, 0.122, 0.1, 0.109, 0.135, 0.153, 0.17, 0.192, 0.222, 0.231, 0.231, 0.244, 0.236, 0.231, 0.231,
                    0.236, 0.231, 0.221, 0.222, 0.214, 0.205, 0.188, 0.161, 0.127, 0.109, 0.075, 0.135, 0.144, 0.17, 0.188, 0.2, 0.236, 0.231, 0.218, 0.205,
                    0.188, 0.157, 0.183, 0.188, 0.196, 0.195, 0.179, 0.177, 0.166, 0.153, 0.154, 0.144, 0.142, 0.144, 0.144, 0.161, 0.17, 0.196, 0.284, 0.144,
                    N, 0.188, 0.266]
B_GRASS_VOL_FILL = [0.03, 0.144, 0.166, 0.179, 0.188, 0.161, 0.113, 0.135, 0.153, 0.166, 0.188, 0.205, 0.227, 0.257, 0.262, 0.259, 0.253, 0.262, 0.257, 0.262,
                    0.253, 0.257, 0.257, 0.249, 0.253, 0.244, 0.231, 0.144, 0.1, 0.17, 0.179, 0.196, 0.179, 0.188, 0.196, 0.214, 0.249, 0.257, 0.24, 0.218,
                    0.2, 0.17, 0.192, 0.207, 0.212, 0.205, 0.192, 0.183, 0.17, 0.166, 0.166, 0.153, 0.151, 0.179, 0.17, 0.183, 0.188, 0.214, 0.266, 0.205,
                    N, N, N]
B_GRASS_GEO_ORIG = [0.035, 0.022, 0.015, 0.014, 0.015, 0.014, 0.018, 0.02, 0.02, 0.022, 0.03, 0.035, 0.04, 0.042, 0.036, 0.022, 0.024, 0.03, 0.035, 0.036,
                    0.038, 0.038, 0.04, 0.042, 0.04, 0.038, 0.03, 0.028, 0.04, 0.042, 0.022, 0.02, 0.03, 0.01, 0.005, 0.02, 0.022, 0.025, 0.026, 0.03,
                    0.032, 0.035, 0.045, 0.035, 0.045, 0.035, 0.042, 0.028, 0.03, 0.035, 0.032, 0.04, 0.028, 0.035, 0.028, 0.03, 0.035, 0.045, 0.05, 0.028,
                    N, 0.03, 0.02]
B_GRASS_GEO_FILL = [0.013, 0.019, 0.017, 0.017, 0.017, 0.018, 0.022, 0.024, 0.024, 0.026, 0.035, 0.038, 0.039, 0.044, 0.039, 0.026, 0.026, 0.031, 0.035, 0.038,
                    0.039, 0.039, 0.039, 0.044, 0.039, 0.039, 0.031, 0.031, 0.044, 0.044, 0.026, 0.031, 0.035, 0.031, 0.028, 0.026, 0.026, 0.026, 0.028, 0.031,
                    0.035, 0.039, 0.05, 0.039, 0.048, 0.039, 0.044, 0.031, 0.035, 0.039, 0.035, 0.044, 0.031, 0.038, 0.031, 0.032, 0.038, 0.048, 0.057, 0.031,
                    N, N, N]
B_GRASS_WSA_ORIG = [0.14, 0.2, 0.205, 0.23, 0.21, 0.205, 0.2, 0.18, 0.19, 0.2, 0.225, 0.25, 0.265, 0.27, 0.265, 0.28, 0.29, 0.29, 0.3, 0.295,
                    0.29, 0.295, 0.29, 0.295, 0.3, 0.3, 0.285, 0.215, 0.195, 0.2, 0.28, 0.42, 0.41, 0.38, 0.29, 0.28, 0.26, 0.255, 0.27, 0.28,
                    0.275, 0.255, 0.25, 0.23, 0.22, 0.21, 0.22, 0.23, 0.24, 0.25, 0.275, 0.265, 0.26, 0.255, 0.255, 0.255, 0.27, 0.28, 0.35, 0.25,
                    N, 0.3, 0.36]
B_GRASS_WSA_FILL = [0.144, 0.205, 0.209, 0.236, 0.218, 0.209, 0.205, 0.188, 0.196, 0.205, 0.231, 0.257, 0.275, 0.275, 0.27, 0.284, 0.297, 0.297, 0.305, 0.301,
                    0.297, 0.301, 0.297, 0.301, 0.305, 0.31, 0.292, 0.227, 0.2, 0.205, 0.284, 0.432, 0.428, 0.397, 0.301, 0.292, 0.266, 0.266, 0.279, 0.288,
                    0.284, 0.264, 0.259, 0.24, 0.229, 0.214, 0.227, 0.238, 0.249, 0.259, 0.282, 0.273, 0.266, 0.264, 0.262, 0.262, 0.282, 0.288, 0.362, 0.257,
                    N, 0.31, 0.38]
B_GRASS_PX_LAT = [82, 79.5, 61.1, 59.9, 58.4, 54, 52.7, 38.7, 36.9, 35.1, 33.3, 31.5, 29.7, 27.1, 24.4, 19, 15.4, 11.8, 8.2, 4.7,
                  1, -2.5, -6.1, -9.7, -13.3, -16, -18.6, -22.2, -24.9, -26.7, -28.5, -31.2, -33.9, -36.6]
B_GRASS_PX = [0, 5.5, 5.5, 2.0, 0.3, 0.3, 5.5, 5.5, 4.0, 3.7, 2.5, 1.5, 0.8, 0.3, 0.05, 0, 0.15, 0.1, 0.2, 0.3,
              0.25, 0.4, 0.4, 0.6, 0.7, 0.65, 0.6, 0.5, 0.45, 0.9, 0.7, 0.4, 0.2, 0]

LAT_TICKS = [90, 60, 30, 0, -30, -60, -90]
VAL_TICKS = [0, 0.1, 0.2, 0.3, 0.4, 0.5]
HUN_TICKS = [0, 1, 2, 3, 4, 5]
VAL_MAX = 0.5
HUN_MAX = 5.0

SERIES = [  # key, legend label, colour, dotted
    ("ISO_ORIG", "ISO ORIG", "#000000", True),
    ("ISO_FILL", "ISO FILL", "#000000", False),
    ("VOL_ORIG", "VOL ORIG", "#ED7D31", True),
    ("VOL_FILL", "VOL FILL", "#ED7D31", False),
    ("GEO_ORIG", "GEO ORIG", "#7030A0", True),
    ("GEO_FILL", "GEO FILL", "#7030A0", False),
    ("WSA_ORIG", "WSA ORIG", "#FF0000", True),
    ("WSA_FILL", "WSA FILL", "#FF0000", False),
]
PX_COLOR = "#BDE9F8"
GRAY = "#898989"
TICK_FONT = "Open Sans"


def arr(v):
    return np.array([np.nan if a is None else a for a in v], dtype=float)


def line_style(color, dotted):
    if dotted:
        return dict(line_color=color, line_width=2.6, line_dash="3 3")
    return dict(line_color=color, line_width=2.2, line_join="round")


def panel(prefix, title, tx, ty, talign, width, height, bl, br, bt, bb, frame_h, ext):
    """frame_h: pixels between 0 and 0.5; ext: extra frame pixels above 0.5 (room for the title)."""
    g = globals()
    lat = arr(g[prefix + "_LAT"])
    top = VAL_MAX * (1 + ext / frame_h)
    p = figure(width=width, height=height, x_range=Range1d(90, -90), y_range=Range1d(0, top),
               output_backend="svg", toolbar_location=None,
               min_border_left=bl, min_border_right=br, min_border_top=bt, min_border_bottom=bb)
    p.extra_y_ranges = {"px": Range1d(0, top * HUN_MAX / VAL_MAX)}
    p.outline_line_color = None
    p.xgrid.visible = False
    p.ygrid.visible = False
    p.background_fill_color = "white"

    px_lat = arr(g[prefix + "_PX_LAT"])
    px_val = arr(g[prefix + "_PX"])
    if len(px_lat) != len(px_val):
        raise ValueError(f"{prefix} PX length {len(px_lat)} vs {len(px_val)}")
    # the reference cuts the area at the top of the axis
    p.varea(x=px_lat, y1=0, y2=np.minimum(px_val, HUN_MAX), y_range_name="px", fill_color=PX_COLOR)

    for key, _, color, dotted in SERIES:
        vals = arr(g[prefix + "_" + key])
        if len(vals) != len(lat):
            raise ValueError(f"{prefix}_{key} length {len(vals)} vs {len(lat)}")
        p.line(lat, vals, **line_style(color, dotted))

    xa = p.xaxis[0]
    xa.ticker = FixedTicker(ticks=LAT_TICKS)
    xa.major_label_overrides = {-90: ""}
    xa.major_label_standoff = 8
    xa.axis_label = "Latitude"
    xa.axis_label_standoff = 0
    xa.axis_label_text_font = TICK_FONT
    xa.axis_label_text_font_style = "bold"
    xa.axis_label_text_font_size = "17px"
    xa.axis_label_text_color = "#000000"
    ya = p.yaxis[0]
    ya.ticker = FixedTicker(ticks=VAL_TICKS)
    ya.formatter = PrintfTickFormatter(format="%.1f")
    ya.major_label_standoff = 11
    ya.bounds = (0, VAL_MAX)
    ra = LinearAxis(y_range_name="px", ticker=FixedTicker(ticks=HUN_TICKS))
    ra.major_label_standoff = 8
    ra.bounds = (0, HUN_MAX)
    p.add_layout(ra, "right")
    for ax in (xa, ya, ra):
        ax.axis_line_color = GRAY
        ax.axis_line_width = 2
        ax.major_tick_line_color = GRAY
        ax.major_tick_line_width = 1.5
        ax.major_tick_in = 0
        ax.major_tick_out = 6
        ax.minor_tick_line_color = None
        ax.major_label_text_font = TICK_FONT
        ax.major_label_text_font_size = "18px"
        ax.major_label_text_color = "#000000"

    p.add_layout(Label(x=tx, y=ty, text=title, text_align=talign, text_baseline="alphabetic",
                       text_font="Liberation Serif", text_font_size="25px", text_color="#000000"))
    return p


def strip(width, height):
    f = figure(width=width, height=height, x_range=Range1d(0, width), y_range=Range1d(0, height),
               output_backend="svg", toolbar_location=None, x_axis_location=None, y_axis_location=None,
               min_border=0)
    f.outline_line_color = None
    f.xgrid.visible = False
    f.ygrid.visible = False
    return f


def hundreds(width, height, x, y):
    f = strip(width, height)
    f.add_layout(Label(x=x, y=y, text="Hundreds", angle=np.pi / 2, text_align="center",
                       text_baseline="middle", text_font=TICK_FONT, text_font_style="bold",
                       text_font_size="18px", text_color="#000000"))
    return f


# row 1 (a): 274 px high
a1 = panel("A_CROP", "Croplands", 85.7, 0.4913, "left", 425, 274, 60, 30, 4, 60, 190, 20)
a2 = panel("A_MIXF", "Mixed Forest", 84.2, 0.4913, "left", 424, 274, 59, 31, 4, 60, 190, 20)
# row 2 (a): 267 px high
a3 = panel("A_SHRUB", "Open Shrublands", 83.2, 0.490, "left", 425, 267, 60, 30, 2, 56, 191, 18)
a4 = panel("A_GRASS", "Grasslands", 83.5, 0.490, "left", 424, 267, 59, 31, 2, 56, 191, 18)
# row 3 (b): 277 px high
b1 = panel("B_CROP", "Croplands", -3.1, 0.489, "center", 425, 277, 60, 30, 2, 56, 191, 28)
b2 = panel("B_MIXF", "Mixed Forest", -8.9, 0.485, "center", 424, 277, 59, 31, 2, 56, 191, 28)
# row 4 (b): 272 px high
b3 = panel("B_SHRUB", "Open Shrublands", -2.2, 0.4895, "center", 425, 272, 58, 26, 2, 52, 195, 23)
b4 = panel("B_GRASS", "Grasslands", -6.7, 0.4895, "center", 424, 272, 59, 31, 2, 57, 191, 22)

fa = strip(907, 24)
fa.add_layout(Label(x=460, y=12, text="(a)", text_align="center", text_baseline="middle",
                    text_font="Liberation Serif", text_font_size="24px", text_color="#000000"))

fl = strip(907, 122)
rend = {"PX": fl.varea(x=[np.nan, np.nan], y1=[np.nan, np.nan], y2=[np.nan, np.nan], fill_color=PX_COLOR)}
for key, _, color, dotted in SERIES:
    rend[key] = fl.line(x=[np.nan, np.nan], y=[np.nan, np.nan], **line_style(color, dotted))
labels = {key: lab for key, lab, _, _ in SERIES}
labels["PX"] = "#OF PIXELS"
rows_keys = [["PX", "ISO_ORIG", "ISO_FILL", "VOL_ORIG", "VOL_FILL"],
             ["GEO_ORIG", "GEO_FILL", "WSA_ORIG", "WSA_FILL"]]
for keys, ypos in zip(rows_keys, [86, 42]):
    leg = Legend(items=[LegendItem(label=labels[k], renderers=[rend[k]]) for k in keys],
                 orientation="horizontal", location=(37, ypos),
                 glyph_width=52, glyph_height=12, label_standoff=8, label_width=118, label_height=20,
                 spacing=0, padding=0, margin=0, border_line_color=None, background_fill_alpha=0,
                 label_text_font=TICK_FONT, label_text_font_size="17px", label_text_color="#000000")
    fl.add_layout(leg)
fl.add_layout(Label(x=462, y=14, text="(b)", text_align="center", text_baseline="middle",
                    text_font="Liberation Serif", text_font_size="24px", text_color="#000000"))

layout = column(
    row(a1, hundreds(28, 274, 16, 192), a2, hundreds(30, 274, 18, 192)),
    row(a3, hundreds(28, 267, 16, 190), a4, hundreds(30, 267, 18, 190)),
    fa,
    row(b1, hundreds(28, 277, 16, 190), b2, hundreds(30, 277, 18, 190)),
    row(b3, hundreds(28, 272, 16, 190), b4, hundreds(30, 272, 18, 190)),
    fl,
)
open("out.html", "w").write(file_html(layout, INLINE))
